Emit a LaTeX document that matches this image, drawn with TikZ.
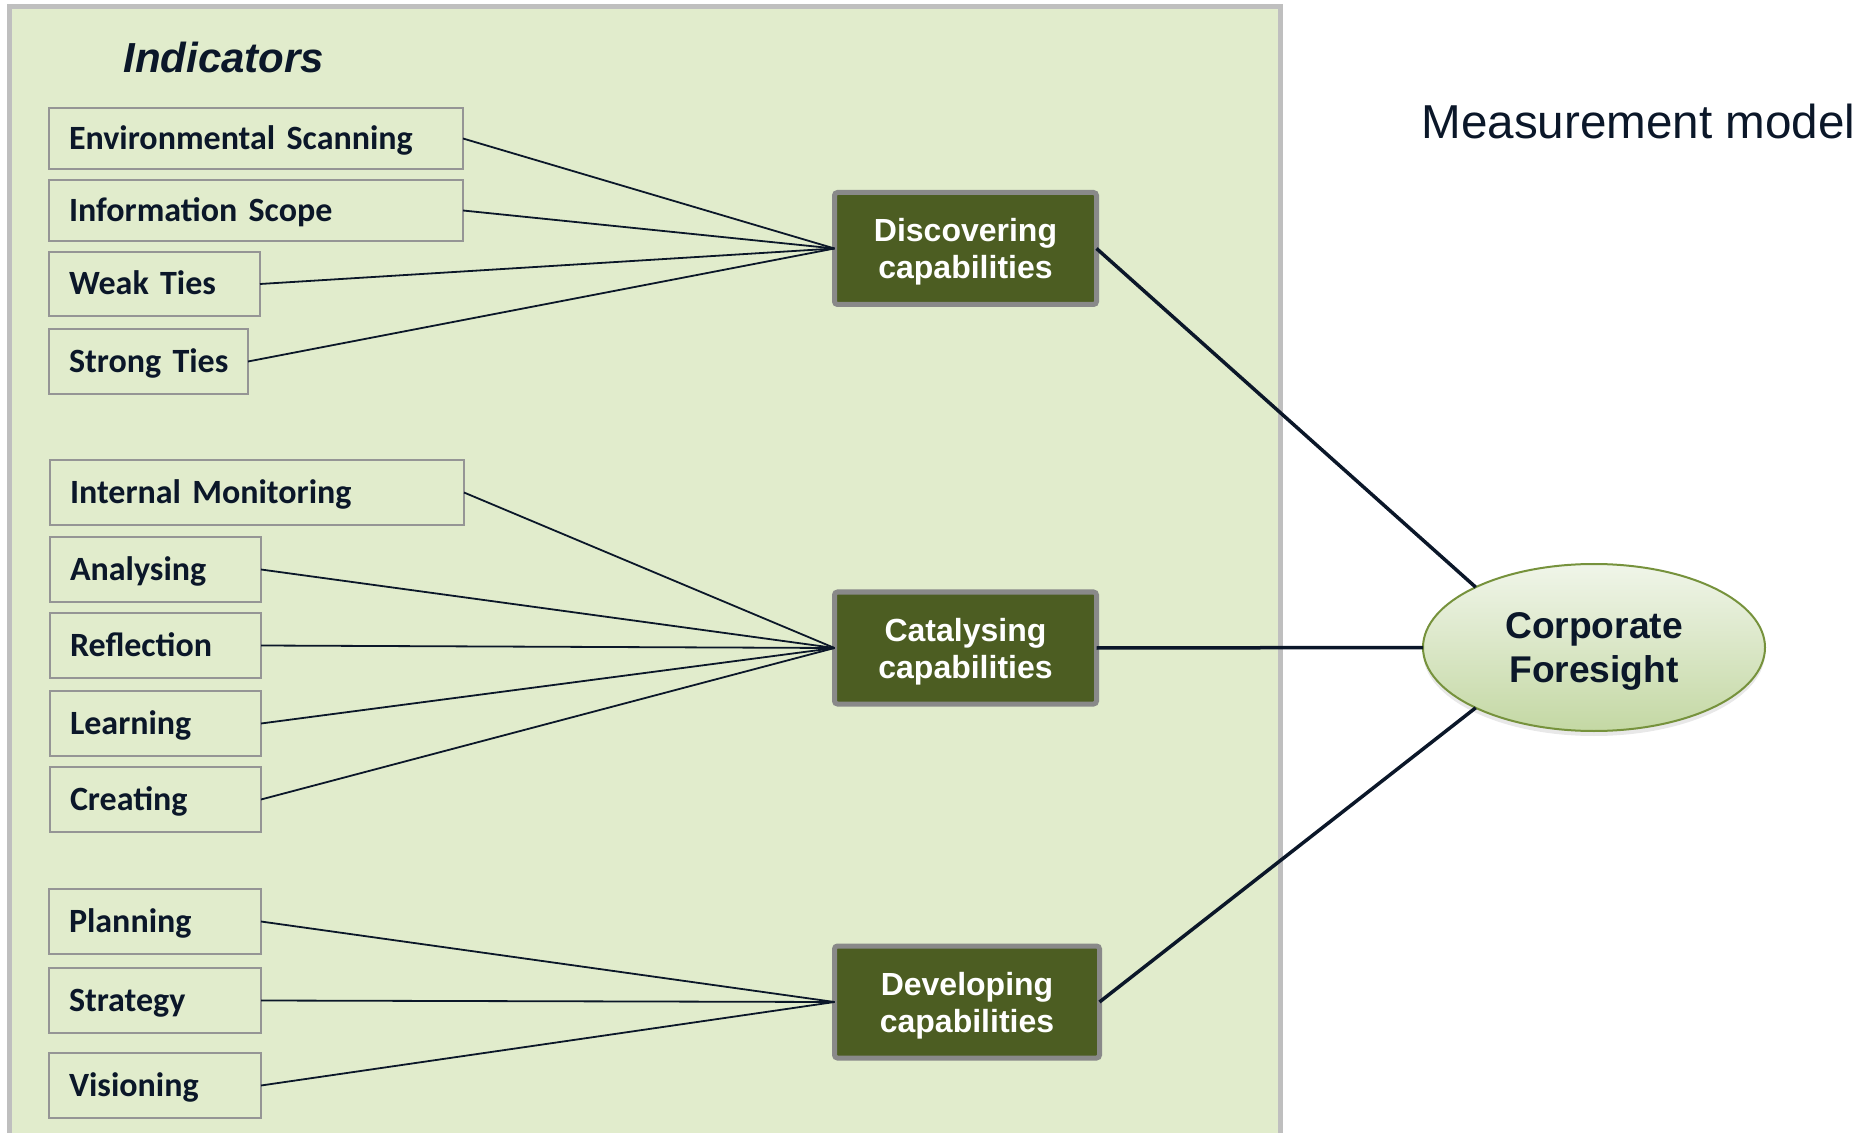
\documentclass[tikz,border=0pt]{standalone}
\usepackage{fontspec}
\setmainfont{Liberation Sans}
\newfontfamily\calib{Carlito}
\usetikzlibrary{shapes.geometric,shadows}
\definecolor{panelfill}{HTML}{E1ECCC}
\definecolor{panelborder}{HTML}{BFBFBF}
\definecolor{indgray}{HTML}{959595}
\definecolor{capfill}{HTML}{4C5D22}
\definecolor{capborder}{HTML}{898989}
\definecolor{navy}{HTML}{0B1729}
\definecolor{ellborder}{HTML}{76923C}
\definecolor{elltop}{HTML}{F0F5E9}
\definecolor{ellbot}{HTML}{C4D8A4}
\tikzset{
  ind/.style={rectangle, draw=indgray, line width=0.75pt, anchor=north west,
    inner xsep=10pt, inner ysep=0pt, outer sep=0pt, align=left,
    font=\calib\bfseries\fontsize{17}{20}\selectfont, text=navy,
    text height=11pt, text depth=0pt},
  capbox/.style={rectangle, draw=capborder, fill=capfill, line width=2.5pt,
    rounded corners=1.5pt, inner sep=0pt, outer sep=0pt, align=center,
    minimum height=56pt, text=white,
    font=\bfseries\fontsize{16}{18.5}\selectfont, text depth=0pt},
  thinline/.style={draw=navy, line width=0.9pt},
  thickline/.style={draw=navy, line width=1.75pt},
}
\begin{document}
\begin{tikzpicture}[x=0.5pt,y=-0.5pt]
\useasboundingbox (0,0) rectangle (1868,1133);
% panel
\fill[panelfill] (9.5,6.5) rectangle (1280.5,1133);
\draw[panelborder, line width=2.25pt] (9.5,1133) -- (9.5,6.5) -- (1280.5,6.5) -- (1280.5,1133);
\node[anchor=base west, font=\bfseries\itshape\fontsize{21}{24}\selectfont, text=navy, inner sep=0pt] (title) at (123,73) {Indicators};
\node[anchor=base west, font=\fontsize{23.8}{28}\selectfont, text=navy, inner sep=0pt] (mm) at (1421,139) {Measurement model};
% indicators group 1
\node[ind, text width=187pt, minimum height=30.5pt] (env) at (49,108) {\mbox{Environmental Scanning}};
\node[ind, text width=187pt, minimum height=30.5pt] (info) at (49,180) {\mbox{Information Scope}};
\node[ind, text width=85.5pt, minimum height=32pt] (weak) at (49,252) {\mbox{Weak Ties}};
\node[ind, text width=79.5pt, minimum height=32.5pt] (strong) at (49,329) {\mbox{Strong Ties}};
% group 2
\node[ind, text width=187pt, minimum height=32.5pt] (intmon) at (50,460) {\mbox{Internal Monitoring}};
\node[ind, text width=85.5pt, minimum height=32.5pt] (anal) at (50,537) {\mbox{Analysing}};
\node[ind, text width=85.5pt, minimum height=32.5pt] (refl) at (50,613) {\mbox{Reflection}};
\node[ind, text width=85.5pt, minimum height=32.5pt] (learn) at (50,691) {\mbox{Learning}};
\node[ind, text width=85.5pt, minimum height=32.5pt] (creat) at (50,767) {\mbox{Creating}};
% group 3
\node[ind, text width=86pt, minimum height=32.5pt] (plan) at (49,889) {\mbox{Planning}};
\node[ind, text width=86pt, minimum height=32.5pt] (strat) at (49,968) {\mbox{Strategy}};
\node[ind, text width=86pt, minimum height=32.5pt] (vis) at (49,1053) {\mbox{Visioning}};
% capabilities
\node[capbox, minimum width=131pt] (disc) at (965.5,248.5) {Discovering\\capabilities};
\node[capbox, minimum width=131pt] (cat) at (965.5,648) {Catalysing\\capabilities};
\node[capbox, minimum width=132.5pt] (dev) at (967,1002) {Developing\\capabilities};
% ellipse
\node[ellipse, draw=ellborder, line width=1pt, top color=elltop, bottom color=ellbot,
  minimum width=171pt, minimum height=83.5pt, inner sep=0pt, outer sep=0pt,
  align=center, text=navy, font=\bfseries\fontsize{18.6}{22}\selectfont, text depth=0pt,
  drop shadow={opacity=0.18, shadow xshift=0pt, shadow yshift=-2.5pt}] (cf) at (1594,647.5) {Corporate\\Foresight};
% thin connectors
\foreach \n in {env,info,weak,strong} \draw[thinline] (\n.east) -- (disc.west);
\foreach \n in {intmon,anal,refl,learn,creat} \draw[thinline] (\n.east) -- (cat.west);
\foreach \n in {plan,strat,vis} \draw[thinline] (\n.east) -- (dev.west);
% thick connectors
\draw[thickline] (disc.east) -- (cf.153);
\draw[thickline] (cat.east) -- (cf.west);
\draw[thickline] (dev.east) -- (cf.207);
\end{tikzpicture}
\end{document}
